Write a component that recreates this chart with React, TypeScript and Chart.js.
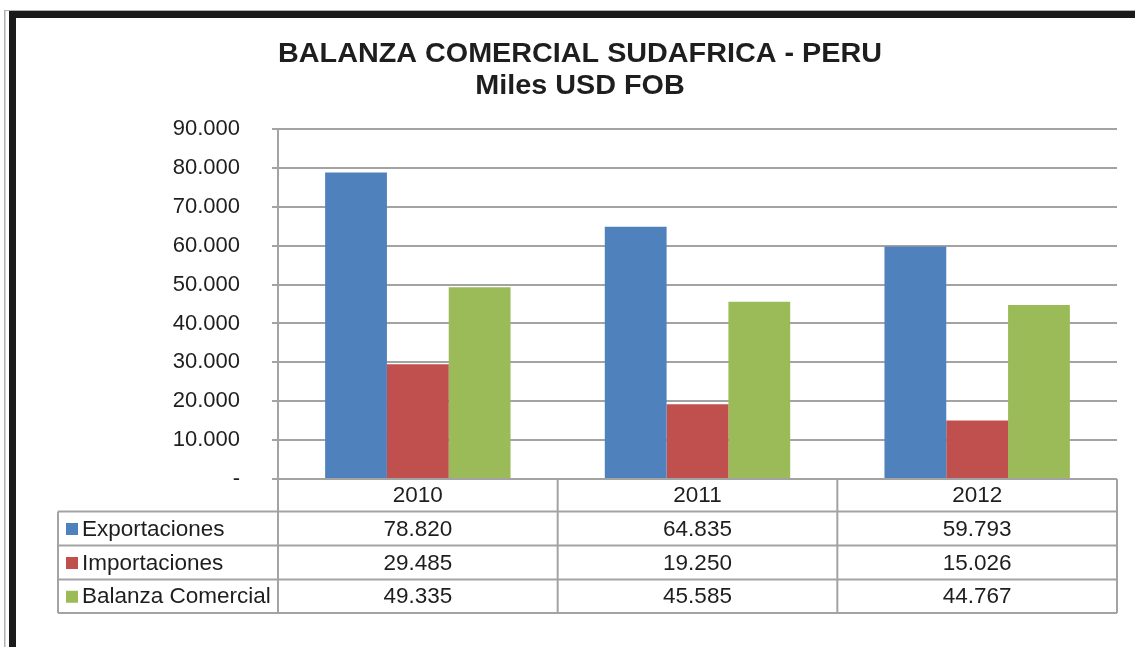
import React, { useEffect, useRef } from "react";
import { Chart, registerables } from "chart.js";

Chart.register(...registerables);

const categories = ["2010", "2011", "2012"];
const seriesNames = ["Exportaciones", "Importaciones", "Balanza Comercial"];
const exportaciones = [78820, 64835, 59793];
const importaciones = [29485, 19250, 15026];
const balanza = [49335, 45585, 44767];
const seriesColors = ["#4f81bd", "#c0504d", "#9bbb59"];
const titleLines = ["BALANZA COMERCIAL SUDAFRICA - PERU", "Miles USD FOB"];

const FONT = "'Liberation Sans', Arial, Helvetica, sans-serif";
const GRID = "#a3a3a3";
const TEXT = "#1e1e1e";

function fmt(v: number): string {
  if (v === 0) return "-";
  return Math.round(v)
    .toString()
    .replace(/\B(?=(\d{3})+(?!\d))/g, ".");
}

const framePlugin = {
  id: "frameAndTable",
  beforeDraw(chart: any) {
    const ctx = chart.ctx;
    ctx.save();
    ctx.fillStyle = "#ffffff";
    ctx.fillRect(0, 0, chart.width, chart.height);
    // outer frame
    ctx.fillStyle = "#b0b0b0";
    ctx.fillRect(4, 10, 1.5, chart.height);
    ctx.fillRect(4, 10, chart.width, 1);
    ctx.fillStyle = "#1a1a1a";
    ctx.fillRect(9, 11, 7, chart.height);
    ctx.fillRect(9, 11, chart.width, 7);
    // title
    ctx.fillStyle = TEXT;
    ctx.textAlign = "center";
    ctx.textBaseline = "alphabetic";
    ctx.font = `bold 27px ${FONT}`;
    ctx.translate(580, 0);
    ctx.scale(1.065, 1);
    ctx.fillText(titleLines[0], 0, 62);
    ctx.fillText(titleLines[1], 0, 94);
    ctx.restore();
  },
  afterDraw(chart: any) {
    const ctx = chart.ctx;
    const area = chart.chartArea;
    const xs = chart.scales.x;
    const centers = categories.map((_, i) => xs.getPixelForValue(i));
    const bounds: number[] = [area.left];
    for (let i = 0; i < centers.length - 1; i++) bounds.push((centers[i] + centers[i + 1]) / 2);
    bounds.push(area.right);
    const rows = [area.bottom, 511.5, 545.5, 579.5, 613];
    const tableLeft = 58;
    ctx.save();
    ctx.strokeStyle = GRID;
    ctx.lineWidth = 2;
    ctx.beginPath();
    for (let r = 1; r < rows.length; r++) {
      ctx.moveTo(tableLeft, rows[r]);
      ctx.lineTo(area.right, rows[r]);
    }
    bounds.forEach((b) => {
      ctx.moveTo(b, rows[0]);
      ctx.lineTo(b, rows[rows.length - 1]);
    });
    ctx.moveTo(tableLeft, rows[1]);
    ctx.lineTo(tableLeft, rows[rows.length - 1]);
    ctx.stroke();

    ctx.fillStyle = TEXT;
    ctx.font = `22.5px ${FONT}`;
    ctx.textBaseline = "middle";
    ctx.textAlign = "center";
    categories.forEach((c, i) => {
      ctx.fillText(c, centers[i], (rows[0] + rows[1]) / 2 + 1);
    });
    const datasets = chart.data.datasets;
    datasets.forEach((ds: any, r: number) => {
      const yMid = (rows[r + 1] + rows[r + 2]) / 2 + 1;
      ctx.textAlign = "center";
      ctx.fillStyle = TEXT;
      ds.data.forEach((v: number, i: number) => {
        ctx.fillText(fmt(v), centers[i], yMid);
      });
      ctx.fillStyle = ds.backgroundColor;
      ctx.fillRect(66, yMid - 6.5, 12, 12);
      ctx.fillStyle = TEXT;
      ctx.textAlign = "left";
      ctx.fillText(ds.label, 82, yMid);
    });
    ctx.restore();
  },
};

export default function App() {
  const ref = useRef<HTMLCanvasElement | null>(null);
  useEffect(() => {
    if (!ref.current) return;
    const values = [exportaciones, importaciones, balanza];
    const chart = new Chart(ref.current, {
      type: "bar",
      data: {
        labels: categories,
        datasets: seriesNames.map((name, i) => ({
          label: name,
          data: values[i],
          backgroundColor: seriesColors[i],
          borderWidth: 0,
          categoryPercentage: 0.663,
          barPercentage: 1,
        })),
      },
      options: {
        responsive: false,
        animation: false,
        layout: { padding: { left: 20, top: 129, right: 18, bottom: 168 } },
        plugins: {
          legend: { display: false },
          title: { display: false },
          tooltip: { enabled: false },
        },
        scales: {
          x: { display: false },
          y: {
            min: 0,
            max: 90000,
            afterFit(scale: any) {
              scale.width = 258;
            },
            ticks: {
              stepSize: 10000,
              padding: 32,
              color: TEXT,
              font: { family: FONT, size: 22 },
              callback: (v: any) => fmt(Number(v)),
            },
            grid: { color: GRID, lineWidth: 2, tickLength: 6 },
            border: { color: GRID, width: 2 },
          },
        },
      },
      plugins: [framePlugin],
    });
    return () => chart.destroy();
  }, []);
  return (
    <div style={{ position: "absolute", left: 0, top: 0, width: 1135, height: 647, background: "#fff" }}>
      <canvas ref={ref} width={1135} height={647} style={{ display: "block" }} />
    </div>
  );
}
